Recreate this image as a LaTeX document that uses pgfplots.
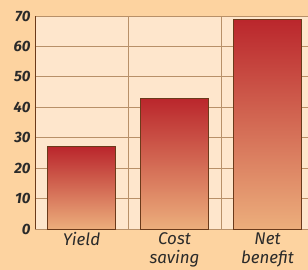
\documentclass[border=0pt]{standalone}
\usepackage{pgfplots}
\pgfplotsset{compat=1.18}
\usepackage{fontspec}
\setmainfont{Fira Sans}
\definecolor{outerbg}{HTML}{FDD3A0}
\definecolor{plotbg}{HTML}{FEE6CC}
\definecolor{gridc}{HTML}{B89068}
\definecolor{edgec}{HTML}{6B3A1A}
\definecolor{bartop}{HTML}{BA262C}
\definecolor{barbot}{HTML}{ECAE7C}
\definecolor{txt}{HTML}{2A2A2A}
\begin{document}
\begin{tikzpicture}[x=1bp,y=1bp]
\fill[outerbg] (0,0) rectangle (308,270);
\useasboundingbox (0,0) rectangle (308,270);
\begin{axis}[
  at={(35bp,41bp)}, anchor=south west,
  scale only axis, width=279bp, height=213bp,
  xmin=-0.5, xmax=2.5, ymin=0, ymax=70,
  ytick={0,10,...,70},
  xtick={0,1,2},
  xticklabels={Yield, Cost\\saving, Net\\benefit},
  minor xtick={0.5,1.5},
  xminorgrids, ymajorgrids,
  major grid style={gridc, line width=0.9pt},
  minor grid style={gridc, line width=0.9pt},
  axis background/.style={fill=plotbg},
  axis x line*=bottom, axis y line*=left,
  x axis line style={gridc, line width=0.9pt},
  y axis line style={edgec, line width=0.9pt},
  major tick length=0pt, minor tick length=0pt,
  tick style={draw=none},
  /pgf/number format/assume math mode=true,
  yticklabel style={font=\fontsize{15}{16}\selectfont\bfseries\itshape, text=txt, xshift=-1bp},
  xticklabel style={font=\fontsize{17}{19}\selectfont\itshape, text=txt, align=center, yshift=0bp},
  ybar, bar width=0.73, bar shift=0pt,
  clip=false,
  barsty/.style={draw=edgec, line width=1pt, top color=bartop, bottom color=barbot},
]
\addplot[barsty] coordinates {(0,27)};
\addplot[barsty] coordinates {(1,43)};
\addplot[barsty] coordinates {(2,69)};
\end{axis}
\end{tikzpicture}
\end{document}
